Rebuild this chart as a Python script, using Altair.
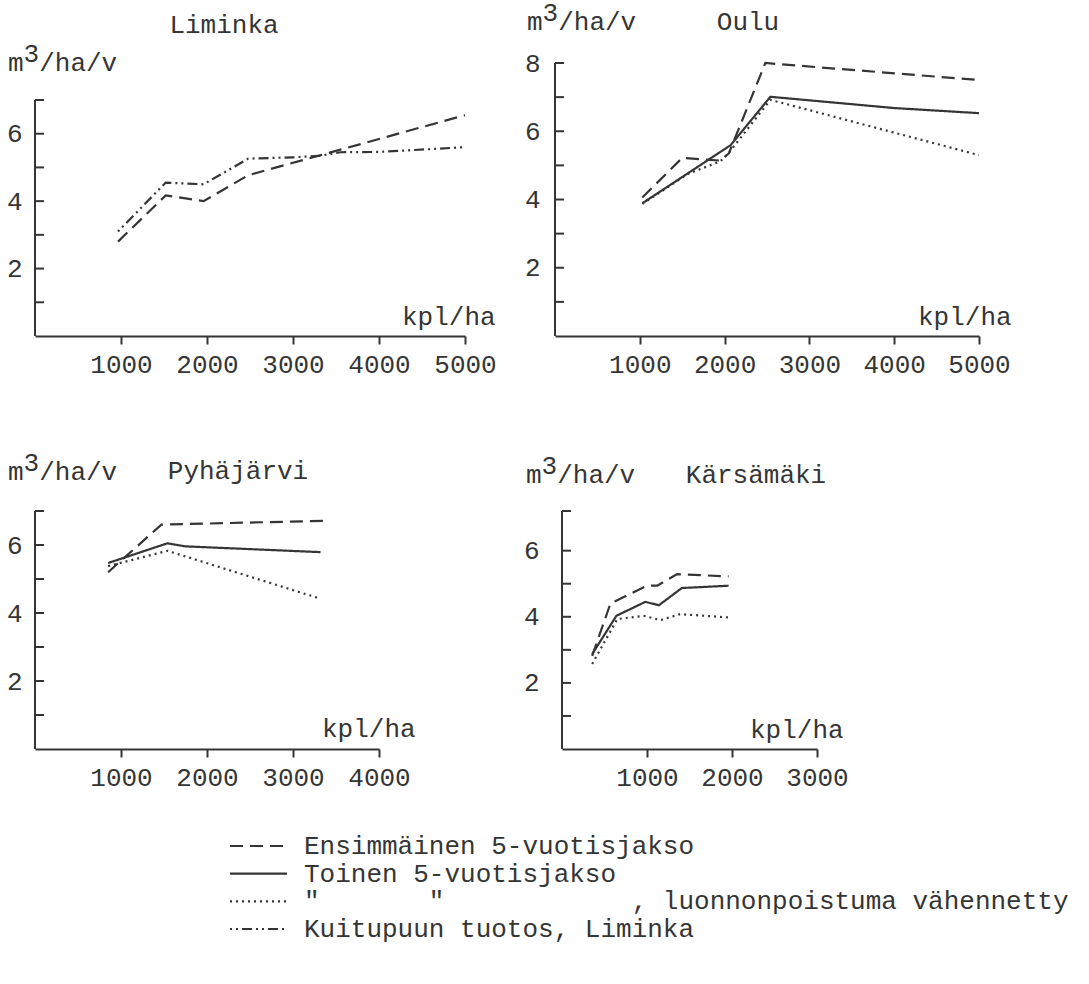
import altair as alt
import pandas as pd

INK = "#353535"
FONT = "Liberation Mono"
FS = 26
NB = "\u00a0"

# ---------------- data ----------------
# Liminka
lim_ens_x = [965, 1520, 1960, 2480, 5000]
lim_ens_y = [2.80, 4.17, 4.00, 4.77, 6.55]
lim_kui_x = [965, 1520, 1960, 2480, 3000, 3300, 3550, 4000, 5000]
lim_kui_y = [3.10, 4.55, 4.50, 5.26, 5.30, 5.34, 5.45, 5.46, 5.60]
# Oulu
oul_ens_x = [1030, 1500, 1950, 2050, 2480, 5000]
oul_ens_y = [4.06, 5.22, 5.14, 5.35, 8.00, 7.50]
oul_toi_x = [1030, 2070, 2540, 4000, 5000]
oul_toi_y = [3.89, 5.59, 7.01, 6.68, 6.53]
oul_luo_x = [1030, 1560, 1950, 2050, 2540, 4000, 5000]
oul_luo_y = [3.87, 4.74, 5.12, 5.37, 6.92, 5.96, 5.30]
# Pyhäjärvi
pyh_ens_x = [850, 1470, 3350]
pyh_ens_y = [5.20, 6.60, 6.71]
pyh_toi_x = [850, 1540, 1750, 3320]
pyh_toi_y = [5.47, 6.05, 5.96, 5.79]
pyh_luo_x = [850, 1540, 3320]
pyh_luo_y = [5.38, 5.83, 4.42]
# Kärsämäki
kar_ens_x = [355, 570, 1000, 1120, 1355, 1960]
kar_ens_y = [2.82, 4.40, 4.94, 4.94, 5.29, 5.22]
kar_toi_x = [355, 640, 980, 1140, 1410, 1960]
kar_toi_y = [2.87, 4.03, 4.45, 4.35, 4.87, 4.94]
kar_luo_x = [355, 650, 960, 1160, 1390, 1960]
kar_luo_y = [2.57, 3.93, 4.03, 3.90, 4.08, 3.98]

series_keys = ["ens", "toinen", "luonnon", "kuitu"]
series_dash = [[13, 7], [1, 0], [2, 4], [2, 4, 2, 4, 10, 4]]
legend_labels = [
    "Ensimmäinen 5-vuotisjakso",
    "Toinen 5-vuotisjakso",
    '"' + NB * 7 + '"' + NB * 12 + ", luonnonpoistuma vähennetty",
    "Kuitupuun tuotos, Liminka",
]

rows = []
def add(site, key, xs, ys):
    for x, y in zip(xs, ys):
        rows.append({"site": site, "series": key, "x": x, "y": y})

add("Liminka", "ens", lim_ens_x, lim_ens_y)
add("Liminka", "kuitu", lim_kui_x, lim_kui_y)
add("Oulu", "ens", oul_ens_x, oul_ens_y)
add("Oulu", "toinen", oul_toi_x, oul_toi_y)
add("Oulu", "luonnon", oul_luo_x, oul_luo_y)
add("Pyhajarvi", "ens", pyh_ens_x, pyh_ens_y)
add("Pyhajarvi", "toinen", pyh_toi_x, pyh_toi_y)
add("Pyhajarvi", "luonnon", pyh_luo_x, pyh_luo_y)
add("Karsamaki", "ens", kar_ens_x, kar_ens_y)
add("Karsamaki", "toinen", kar_toi_x, kar_toi_y)
add("Karsamaki", "luonnon", kar_luo_x, kar_luo_y)
data = pd.DataFrame(rows)

dash_scale = alt.Scale(domain=series_keys, range=series_dash)
one = pd.DataFrame({"k": [0]})


def txt(s, x, y, align="left", size=FS):
    return alt.Chart(one).mark_text(
        text=s, font=FONT, fontSize=size, color=INK, align=align, baseline="alphabetic"
    ).encode(x=alt.value(x), y=alt.value(y))


def panel(site, title, xdom, xrange, xticks, ydom, yrange, ylabels, yticks, ytop,
          w, h, ylabpad, title_xy, ytitle_xy, kpl_xy):
    xs = alt.Scale(domain=xdom, range=xrange, nice=False, zero=False)
    ys = alt.Scale(domain=ydom, range=yrange, nice=False, zero=False)
    yaxis = alt.Axis(
        values=ylabels, format="d", title=None, grid=False, domain=False, ticks=False,
        labelFont=FONT, labelFontSize=FS, labelColor=INK, labelPadding=ylabpad,
        labelFlush=False, labelOverlap=False)
    x0 = xrange[0]
    lines = alt.Chart(data).transform_filter(alt.datum.site == site).mark_line(
        color=INK, strokeWidth=2.2
    ).encode(
        x=alt.X("x:Q", scale=xs, axis=alt.Axis(
            values=xticks, format="d", title=None, grid=False,
            domainColor=INK, domainWidth=2, tickColor=INK, tickWidth=2, tickSize=8,
            labelFont=FONT, labelFontSize=FS, labelColor=INK, labelPadding=20,
            labelBaseline="middle", labelFlush=False, labelOverlap=False)),
        y=alt.Y("y:Q", scale=ys, axis=yaxis),
        strokeDash=alt.StrokeDash("series:N", scale=dash_scale, legend=None),
        detail="series:N",
    )
    yline = alt.Chart(pd.DataFrame({"a": [0], "b": [ytop]})).mark_rule(
        color=INK, strokeWidth=2
    ).encode(x=alt.value(x0), y=alt.Y("a:Q", scale=ys, axis=yaxis), y2="b:Q")
    ytk = alt.Chart(pd.DataFrame({"t": yticks})).mark_rule(
        color=INK, strokeWidth=2
    ).encode(x=alt.value(x0), x2=alt.value(x0 + 9), y=alt.Y("t:Q", scale=ys, axis=yaxis))
    tx, ty = title_xy
    yx, yy = ytitle_xy
    kx, ky = kpl_xy
    texts = [
        txt(title, tx, ty, align="center"),
        txt("m", yx, yy),
        txt("3", yx + 15.6, yy - 9),
        txt("/ha/v", yx + 31.2, yy),
        txt("kpl/ha", kx, ky),
    ]
    return alt.layer(lines, yline, ytk, *texts).properties(width=w, height=h)


A = panel("Liminka", "Liminka", [0, 5000], [0, 430], [1000, 2000, 3000, 4000, 5000],
          [0, 7], [273, 37], [2, 4, 6], [1, 2, 3, 4, 5, 6, 7], 7,
          430, 273, 13, (189, -30), (-27, 8), (367, 262))
B = panel("Oulu", "Oulu", [0, 5000], [0, 424], [1000, 2000, 3000, 4000, 5000],
          [0, 8], [273, 0], [2, 4, 6, 8], [1, 2, 3, 4, 5, 6, 7, 8], 8,
          424, 273, 15, (193, -33), (-28, -33), (363, 262))
C = panel("Pyhajarvi", "Pyhäjärvi", [0, 4000], [0, 344], [1000, 2000, 3000, 4000],
          [0, 7], [323, 85], [2, 4, 6], [1, 2, 3, 4, 5, 6, 7], 7,
          344, 323, 13, (203, 53), (-27, 54), (287, 311))
D = panel("Karsamaki", "Kärsämäki", [0, 3000], [7, 262], [1000, 2000, 3000],
          [0, 7.2], [323, 85], [2, 4, 6], [1, 2, 3, 4, 5, 6, 7.2], 7.2,
          262, 323, 16, (201, 57), (-29, 57), (195, 312))

# legend panel
leg_rows = []
for i, k in enumerate(series_keys):
    leg_rows.append({"series": k, "row": i, "xs": 0, "label": legend_labels[i]})
    leg_rows.append({"series": k, "row": i, "xs": 1, "label": legend_labels[i]})
leg = pd.DataFrame(leg_rows)
ly = alt.Scale(domain=[0, 3], range=[7, 90])
leg_lines = alt.Chart(leg).mark_line(color=INK, strokeWidth=2.2).encode(
    x=alt.X("xs:Q", scale=alt.Scale(domain=[0, 1], range=[195, 252]), axis=None),
    y=alt.Y("row:Q", scale=ly, axis=None),
    strokeDash=alt.StrokeDash("series:N", scale=dash_scale, legend=None),
    detail="series:N",
)
leg_text = alt.Chart(leg).transform_filter(alt.datum.xs == 0).mark_text(
    font=FONT, fontSize=FS, color=INK, align="left", baseline="middle"
).encode(x=alt.value(269), y=alt.Y("row:Q", scale=ly, axis=None), text="label:N")
L = alt.layer(leg_lines, leg_text).properties(width=430, height=110)

chart = alt.concat(A, B, C, D, L, columns=2, spacing=90, bounds="flush").properties(
    padding={"left": 6, "top": 0, "right": 0, "bottom": 10}, background="white"
).configure_view(stroke=None)

chart.save("out.html", embed_options={"renderer": "svg", "actions": False})
